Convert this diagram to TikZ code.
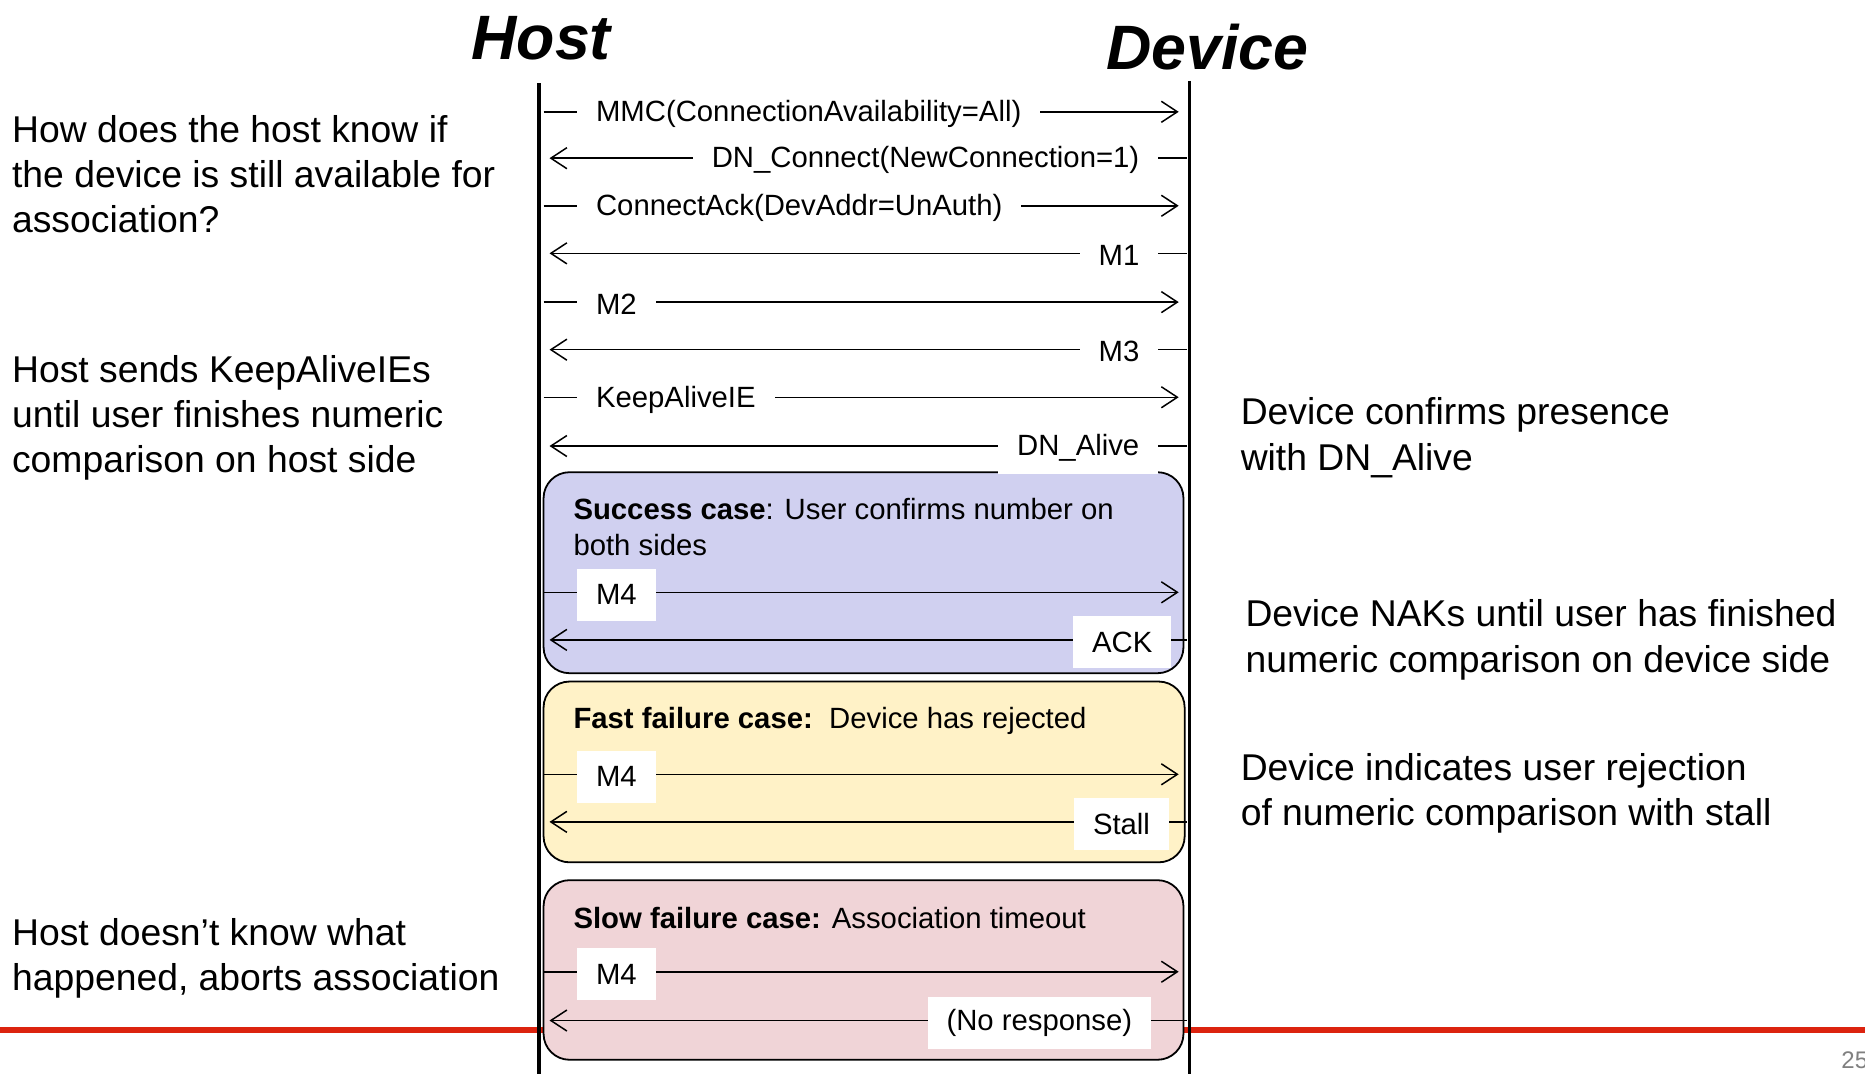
\documentclass[tikz,border=0pt]{standalone}
\usepackage{fontspec}
\setmainfont{Liberation Sans}
\usetikzlibrary{arrows.meta}
\definecolor{boxblue}{RGB}{208,208,240}
\definecolor{boxyellow}{RGB}{255,242,199}
\definecolor{boxpink}{RGB}{240,212,215}
\definecolor{redline}{RGB}{220,35,15}
\begin{document}
\begin{tikzpicture}[x=1.1894pt, y=-1.1894pt,
  msgtext/.style={font=\fontsize{29.3}{35.7}\selectfont},
  lbl/.style={msgtext, fill=white, inner xsep=19pt, inner ysep=0pt, minimum height=52pt, yshift=-2.2pt},
  msg/.style={line width=1.5pt, -{Straight Barb[length=16pt,width=21pt,line width=1.5pt]}},
  life/.style={line width=3.5pt},
  casebox/.style={draw=black, line width=1.8pt, rounded corners=26pt},
  casetitle/.style={msgtext, anchor=west, align=left, inner sep=0pt},
  sidetext/.style={anchor=west, align=left, inner sep=0pt, font=\fontsize{37.3}{45.2}\selectfont},
  title/.style={inner sep=0pt, font=\fontsize{62.7}{70}\selectfont\bfseries\itshape}]
\useasboundingbox[fill=white] (0,0) rectangle (1568,903);
% red rule
\coordinate (rl) at (0,866);
\coordinate (rr) at (1568,866);
\draw[redline, line width=6pt] (rl) -- (rr);
% page number
\node[anchor=west, inner sep=0pt, text=gray, font=\fontsize{24}{28}\selectfont] (pg) at (1548,891) {25};
% case boxes
\draw[casebox, fill=boxblue] (457,397) rectangle (995,566);
\draw[casebox, fill=boxyellow] (457,573) rectangle (996,725);
\draw[casebox, fill=boxpink] (457,740) rectangle (995,891);
% titles
\node[title] (host) at (455,32) {Host};
\node[title] (dev) at (1015,40) {Device};
% lifelines
\coordinate (ht) at (453,70);
\coordinate (hb) at (453,903);
\coordinate (dt) at (1000,68);
\coordinate (db) at (1000,903);
\draw[life] (ht) -- (hb);
\draw[life] (dt) -- (db);
% side texts
\node[sidetext] (t1) at (10,146.5) {How does the host know if\\the device is still available for\\association?};
\node[sidetext] (t2) at (10,351.5) {Host sends KeepAliveIEs\\until user finishes numeric\\comparison on host side};
\node[sidetext] (t3) at (10,805.5) {Host doesn’t know what\\happened, aborts association};
\node[sidetext] (r1) at (1043,368) {Device confirms presence\\with DN\_Alive};
\node[sidetext] (r2) at (1047,538) {Device NAKs until user has finished\\numeric comparison on device side};
\node[sidetext] (r3) at (1043,667) {Device indicates user rejection\\of numeric comparison with stall};
% message endpoints
\foreach \n/\y in {1/94,3/173,5/254,7/334,9/498,11/651,13/817}{
  \coordinate (s\n) at (457,\y);
  \coordinate (e\n) at (991,\y);
  \draw[msg] (s\n) -- (e\n);
}
\foreach \n/\y in {2/133,4/213,6/294,8/375,10/538,12/691,14/858}{
  \coordinate (s\n) at (998,\y);
  \coordinate (e\n) at (462,\y);
  \draw[msg] (s\n) -- (e\n);
}
% labels
\node[lbl, anchor=west] (l1) at (485,94) {MMC(ConnectionAvailability=All)};
\node[lbl, anchor=east] (l2) at (974,133) {DN\_Connect(NewConnection=1)};
\node[lbl, anchor=west] (l3) at (485,173) {ConnectAck(DevAddr=UnAuth)};
\node[lbl, anchor=east] (l4) at (974,213) {M1};
\node[lbl, anchor=west] (l5) at (485,254) {M2};
\node[lbl, anchor=east] (l6) at (974,294) {M3};
\node[lbl, anchor=west] (l7) at (485,334) {KeepAliveIE};
\node[lbl, anchor=east] (l8) at (974,375) {DN\_Alive};
\node[lbl, anchor=west] (l9) at (485,498) {M4};
\node[lbl, anchor=east] (l10) at (985,538) {ACK};
\node[lbl, anchor=west] (l11) at (485,651) {M4};
\node[lbl, anchor=east] (l12) at (983,691) {Stall};
\node[lbl, anchor=west] (l13) at (485,817) {M4};
\node[lbl, anchor=east] (l14) at (968,858) {(No response)};
% case titles
\node[casetitle] (c1) at (482,443) {\textbf{Success case}: User confirms number on\\both sides};
\node[casetitle] (c2) at (482,606) {\textbf{Fast failure case:}\ \ Device has rejected};
\node[casetitle] (c3) at (482,772) {\textbf{Slow failure case:} Association timeout};
\end{tikzpicture}
\end{document}
